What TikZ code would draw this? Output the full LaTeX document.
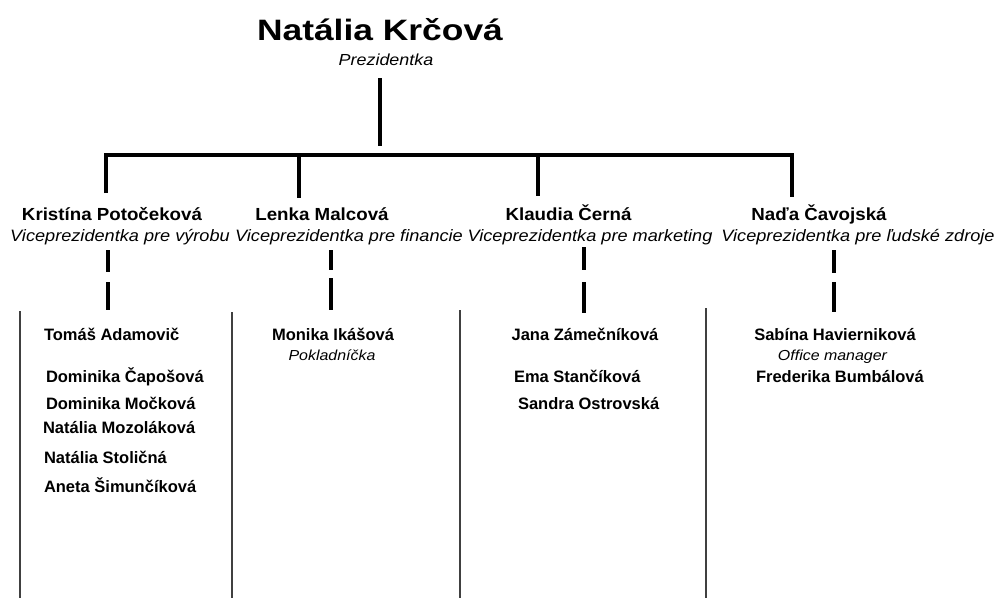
\documentclass[tikz,border=0pt]{standalone}
\usepackage{graphicx}
\usepackage{fontspec}
\setmainfont{Liberation Sans}
\begin{document}
\begin{tikzpicture}[x=1pt,y=-1pt,
  every node/.style={inner sep=0pt,outer sep=0pt,text=black},
  bossname/.style={anchor=base,font=\bfseries\fontsize{29.5}{34}\selectfont},
  vpname/.style={anchor=base,font=\bfseries\fontsize{17.5}{20}\selectfont},
  vptitle/.style={anchor=base,font=\itshape\fontsize{16.5}{20}\selectfont},
  staff/.style={anchor=base west,font=\bfseries\fontsize{16.5}{20}\selectfont},
  staffc/.style={anchor=base,font=\bfseries\fontsize{16.5}{20}\selectfont},
  role/.style={anchor=base,font=\itshape\fontsize{14.5}{17}\selectfont},
  orgline/.style={line width=4pt,black,line cap=butt,line join=miter},
  dashline/.style={line width=4pt,black},
  sepline/.style={line width=1.5pt,black!75}]
\useasboundingbox (0,0) rectangle (997,598);

% President
\node[bossname] (boss) at (380,40) {\scalebox{1.2}[1]{Natália Krčová}};
\node[role,font=\itshape\fontsize{16}{19}\selectfont] (bosstitle) at (386,65) {\scalebox{1.12}[1]{Prezidentka}};

% VPs
\node[vpname] (vp1) at (112,220) {\scalebox{1.07}[1]{Kristína Potočeková}};
\node[vptitle] (vp1t) at (120,241) {\scalebox{1.1}[1]{Viceprezidentka pre výrobu}};
\node[vpname] (vp2) at (322,220) {\scalebox{1.07}[1]{Lenka Malcová}};
\node[vptitle] (vp2t) at (349,241) {\scalebox{1.1}[1]{Viceprezidentka pre financie}};
\node[vpname] (vp3) at (568.5,220) {\scalebox{1.07}[1]{Klaudia Černá}};
\node[vptitle] (vp3t) at (590,241) {\scalebox{1.1}[1]{Viceprezidentka pre marketing}};
\node[vpname] (vp4) at (819,220) {\scalebox{1.07}[1]{Naďa Čavojská}};
\node[vptitle] (vp4t) at (858,241) {\scalebox{1.1}[1]{Viceprezidentka pre ľudské zdroje}};

% Connector coordinates
\coordinate (ptop) at (380,78);
\coordinate (pbot) at (380,146);
\coordinate (b1) at (106,155);
\coordinate (b2) at (299,155);
\coordinate (b3) at (538,155);
\coordinate (b4) at (792,155);
\coordinate (d1) at (106,193);
\coordinate (d2) at (299,198);
\coordinate (d3) at (538,196);
\coordinate (d4) at (792,197);

\draw[orgline] (ptop) -- (pbot);
\draw[orgline] (d1) -- (b1) -- (b4) -- (d4);
\draw[orgline] (b2) -- (d2);
\draw[orgline] (b3) -- (d3);

% dashed links to teams
\coordinate (s1a) at (108,250); \coordinate (s1b) at (108,310);
\coordinate (s2a) at (331,250); \coordinate (s2b) at (331,310);
\coordinate (s3a) at (584,247); \coordinate (s3b) at (584,313);
\coordinate (s4a) at (834,250); \coordinate (s4b) at (834,312);
\draw[dashline,dash pattern=on 22pt off 10pt on 40pt off 10pt] (s1a) -- (s1b);
\draw[dashline,dash pattern=on 20pt off 8pt on 40pt off 10pt] (s2a) -- (s2b);
\draw[dashline,dash pattern=on 23pt off 12pt on 40pt off 10pt] (s3a) -- (s3b);
\draw[dashline,dash pattern=on 23pt off 9pt on 40pt off 10pt] (s4a) -- (s4b);

% separator lines
\coordinate (l1a) at (20,311); \coordinate (l1b) at (20,598);
\coordinate (l2a) at (232,312); \coordinate (l2b) at (232,598);
\coordinate (l3a) at (460,310); \coordinate (l3b) at (460,598);
\coordinate (l4a) at (706,308); \coordinate (l4b) at (706,598);
\draw[sepline] (l1a) -- (l1b);
\draw[sepline] (l2a) -- (l2b);
\draw[sepline] (l3a) -- (l3b);
\draw[sepline] (l4a) -- (l4b);

% Team 1
\node[staff] (t11) at (44,340) {Tomáš Adamovič};
\node[staff] (t12) at (46,382) {Dominika Čapošová};
\node[staff] (t13) at (46,409) {Dominika Močková};
\node[staff] (t14) at (43,433) {Natália Mozoláková};
\node[staff] (t15) at (44,463) {Natália Stoličná};
\node[staff] (t16) at (44,492) {Aneta Šimunčíková};

% Team 2
\node[staffc] (t21) at (333,340) {Monika Ikášová};
\node[role] (t21r) at (332,360) {\scalebox{1.1}[1]{Pokladníčka}};

% Team 3
\node[staffc] (t31) at (585,340) {Jana Zámečníková};
\node[staff] (t32) at (514,382) {Ema Stančíková};
\node[staff] (t33) at (518,409) {Sandra Ostrovská};

% Team 4
\node[staffc] (t41) at (835,340) {Sabína Havierniková};
\node[role] (t41r) at (832.5,360) {\scalebox{1.1}[1]{Office manager}};
\node[staff] (t42) at (756,382) {Frederika Bumbálová};
\end{tikzpicture}
\end{document}
